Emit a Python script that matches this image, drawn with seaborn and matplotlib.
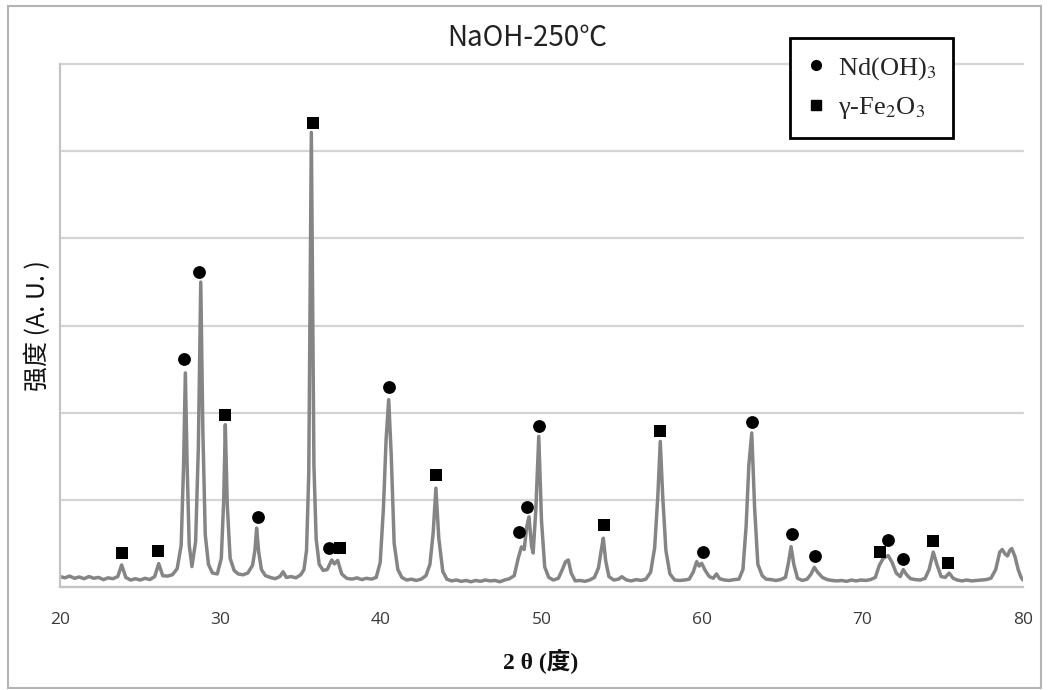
import matplotlib
matplotlib.use("Agg")
import matplotlib.pyplot as plt
from matplotlib.lines import Line2D
from matplotlib.patches import Rectangle
import pandas as pd
import seaborn as sns

# XRD pattern, NaOH treated at 250 C: 2-theta (deg) and intensity (counts)
two_theta = [
    20.0, 20.3, 20.6, 20.9, 21.2, 21.5, 21.8, 22.1, 22.4, 22.7, 23.0, 23.3, 23.6,
    23.84, 24.1, 24.4, 24.7, 25.0, 25.3, 25.6, 25.9, 26.15, 26.4, 26.7, 27.0, 27.3,
    27.55, 27.7, 27.81, 27.92, 28.05, 28.22, 28.45, 28.62, 28.77, 28.9, 29.05, 29.25,
    29.5, 29.8, 30.05, 30.2, 30.3, 30.42, 30.6, 30.85, 31.1, 31.4, 31.7, 32.0, 32.15,
    32.25, 32.38, 32.55, 32.8, 33.1, 33.4, 33.7, 33.9, 34.1, 34.4, 34.7, 35.0, 35.2,
    35.36, 35.5, 35.58, 35.66, 35.74, 35.82, 35.96, 36.15, 36.4, 36.65, 36.93, 37.1,
    37.3, 37.55, 37.86, 38.2, 38.5, 38.8, 39.1, 39.4, 39.7, 39.95, 40.15, 40.32, 40.48,
    40.64, 40.82, 41.05, 41.3, 41.6, 41.9, 42.2, 42.5, 42.8, 43.05, 43.25, 43.42, 43.6,
    43.85, 44.1, 44.4, 44.7, 45.0, 45.3, 45.6, 45.9, 46.2, 46.5, 46.8, 47.1, 47.4, 47.7,
    48.0, 48.3, 48.55, 48.75, 48.92, 49.08, 49.22, 49.38, 49.48, 49.65, 49.83, 50.0,
    50.2, 50.45, 50.75, 51.05, 51.3, 51.5, 51.67, 51.85, 52.1, 52.4, 52.7, 53.0, 53.3,
    53.55, 53.72, 53.85, 54.0, 54.2, 54.5, 54.8, 55.0, 55.3, 55.6, 55.9, 56.2, 56.5,
    56.8, 57.05, 57.25, 57.4, 57.55, 57.75, 58.0, 58.3, 58.6, 58.9, 59.2, 59.45, 59.67,
    59.82, 59.98, 60.2, 60.45, 60.7, 60.9, 61.1, 61.4, 61.7, 62.0, 62.3, 62.55, 62.75,
    62.92, 63.1, 63.28, 63.48, 63.75, 64.0, 64.3, 64.6, 64.9, 65.2, 65.38, 65.55,
    65.72, 65.95, 66.25, 66.55, 66.8, 67.0, 67.2, 67.5, 67.8, 68.1, 68.4, 68.7, 69.0,
    69.3, 69.6, 69.9, 70.2, 70.5, 70.8, 71.05, 71.3, 71.6, 71.85, 72.1, 72.35, 72.54,
    72.75, 73.0, 73.3, 73.6, 73.9, 74.15, 74.41, 74.65, 74.9, 75.15, 75.4, 75.65,
    75.9, 76.2, 76.5, 76.8, 77.1, 77.4, 77.7, 78.0, 78.3, 78.55, 78.7, 78.88, 79.03,
    79.18, 79.3, 79.5, 79.7, 79.88, 80.0,
]
intensity = [
    120, 105, 125, 100, 115, 95, 120, 100, 110, 85, 105, 95, 120,
    253, 110, 80, 95, 80, 100, 85, 120, 268, 130, 125, 140, 210,
    480, 1400, 2456, 1400, 480, 234, 520, 1600, 3498, 1800, 600, 260,
    160, 150, 330, 1000, 1862, 950, 330, 190, 150, 140, 160, 250, 430,
    675, 400, 200, 130, 110, 95, 120, 175, 110, 120, 105, 140, 200,
    420, 1300, 3300, 5215, 3300, 1400, 550, 260, 190, 200, 310, 265,
    305, 150, 100, 90, 105, 85, 100, 90, 110, 280, 900, 1700, 2149,
    1500, 500, 200, 110, 80, 90, 75, 90, 130, 260, 620, 1134, 560,
    180, 90, 70, 80, 65, 75, 60, 75, 65, 80, 70, 75, 60, 80,
    95, 130, 330, 460, 430, 690, 805, 470, 390, 900, 1728, 760,
    230, 110, 80, 100, 200, 290, 310, 160, 70, 75, 65, 80, 110,
    220, 420, 560, 300, 120, 80, 90, 118, 80, 70, 85, 75, 90,
    170, 450, 1050, 1670, 1050, 420, 150, 80, 75, 80, 90, 170, 291,
    240, 272, 190, 120, 100, 150, 95, 80, 75, 85, 90, 200, 700,
    1400, 1767, 900, 260, 130, 90, 85, 75, 85, 110, 270, 463,
    260, 100, 75, 90, 150, 226, 170, 110, 85, 75, 70, 75, 65,
    80, 70, 80, 75, 85, 110, 250, 330, 360, 280, 160, 120, 200,
    140, 95, 85, 80, 100, 200, 400, 250, 120, 110, 160, 100,
    80, 70, 80, 70, 75, 80, 85, 100, 200, 400, 430, 380, 356,
    420, 440, 350, 200, 110, 80,
]

# Reflections assigned to each phase (marker position, deg / counts)
nd_oh3_x = [27.75, 28.68, 32.32, 36.78, 40.50, 48.62, 49.08, 49.86, 60.08, 63.09, 65.59, 67.04, 71.61, 72.54]
nd_oh3_y = [2617, 3613, 801, 445, 2291, 636, 923, 1843, 406, 1893, 609, 360, 540, 318]
fe2o3_x = [23.84, 26.09, 30.28, 35.74, 37.45, 43.43, 53.91, 57.38, 71.09, 74.41, 75.35]
fe2o3_y = [387, 414, 1977, 5322, 445, 1280, 713, 1785, 406, 532, 272]

x_ticks = [20, 30, 40, 50, 60, 70, 80]
y_grid = [0, 1000, 2000, 3000, 4000, 5000, 6000]

sns.set_theme(style="white")
plt.rcParams["font.family"] = ["Noto Sans CJK SC", "DejaVu Sans"]
plt.rcParams["mathtext.fontset"] = "stix"

W, H = 1048, 690
fig = plt.figure(figsize=(W / 100, H / 100), dpi=100)
ax = fig.add_axes([60 / W, 1 - 587 / H, (1023 - 60) / W, (587 - 64) / H])

grid_color = "#d4d4d4"
for yv in y_grid:
    ax.axhline(yv, color=grid_color, lw=1.6, zorder=0, clip_on=False)

pattern = pd.DataFrame({"two_theta": two_theta, "intensity": intensity})
sns.lineplot(data=pattern, x="two_theta", y="intensity", ax=ax, sort=False,
             color="#858585", lw=2.5, zorder=2)

sns.scatterplot(x=nd_oh3_x, y=nd_oh3_y, ax=ax, marker="o", s=85, color="black",
                edgecolor="black", linewidth=0, zorder=3)
sns.scatterplot(x=fe2o3_x, y=fe2o3_y, ax=ax, marker="s", s=85, color="black",
                edgecolor="black", linewidth=0, zorder=3)

ax.set_xlim(20, 80)
ax.set_ylim(0, 6000)
ax.set_xticks(x_ticks)
ax.set_yticks(y_grid)
ax.set_yticklabels([])
ax.set_xlabel("")
ax.set_ylabel("")
ax.grid(False)
for side in ("top", "right"):
    ax.spines[side].set_visible(False)
for side in ("left", "bottom"):
    ax.spines[side].set_color("#c4c4c4")
    ax.spines[side].set_linewidth(1.6)
ax.tick_params(axis="both", direction="out", length=5, width=1.2, color="#c4c4c4")
ax.tick_params(axis="x", labelsize=12.5, labelcolor="#3a3a3a", pad=13)
for lbl in ax.get_xticklabels():
    lbl.set_family(["Open Sans", "DejaVu Sans"])

fig.text(527 / W, 1 - 38 / H, "NaOH-250℃", ha="center", va="center",
         fontsize=20, color="#222222", family=["Noto Sans CJK SC", "DejaVu Sans"])
fig.text(541 / W, 1 - 661 / H, "2 θ (度)", ha="center", va="center",
         fontsize=17, fontweight="bold", color="#111111",
         family=["Liberation Serif", "Noto Sans CJK SC"])
fig.text(38 / W, 1 - 326 / H, "强度 (A. U. )", ha="center", va="center", rotation=90,
         fontsize=18, color="#111111", family=["Noto Sans CJK SC", "DejaVu Sans"])

handles = [
    Line2D([], [], ls="", marker="o", markersize=7, color="black"),
    Line2D([], [], ls="", marker="s", markersize=6.5, color="black"),
]
leg = fig.legend(handles, [r"Nd(OH)$_3$", r"γ-Fe$_2$O$_3$"],
                 loc="upper left", bbox_to_anchor=(790 / W, 1 - 38 / H),
                 bbox_transform=fig.transFigure, borderaxespad=0, frameon=True,
                 fancybox=False, framealpha=1, edgecolor="black", handlelength=0.7,
                 handletextpad=0.45, borderpad=0.65, labelspacing=0.5,
                 prop={"family": "Liberation Serif", "size": 19})
leg.get_frame().set_linewidth(2)

fig.add_artist(Rectangle((8 / W, 2 / H), (1041 - 8) / W, (684 - 2) / H,
                         transform=fig.transFigure, fill=False,
                         edgecolor="#b4b4b4", lw=1.5))

fig.savefig("out.png", dpi=100, facecolor="white")
